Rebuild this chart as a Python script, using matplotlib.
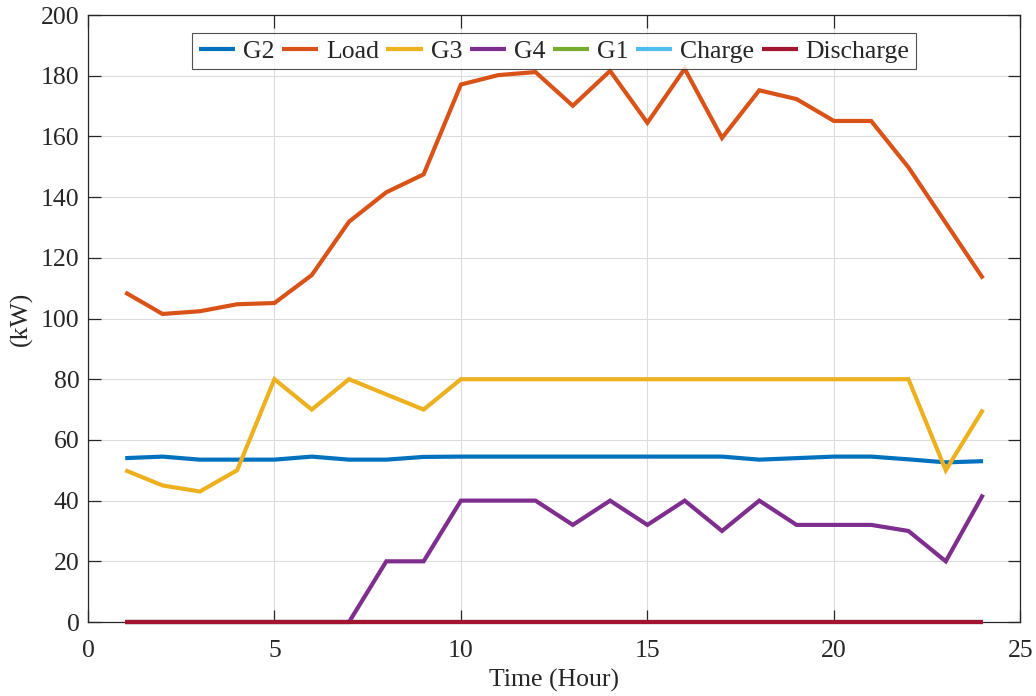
import numpy as np
import matplotlib
matplotlib.use('Agg')
from matplotlib import pyplot as plt

plt.rcParams['font.family'] = ['Liberation Serif', 'DejaVu Serif']
plt.rcParams['mathtext.fontset'] = 'stix'

hours = np.arange(1, 25)

g2 = [54.0, 54.5, 53.5, 53.5, 53.5, 54.5, 53.5, 53.5, 54.4, 54.5, 54.5, 54.5,
      54.5, 54.5, 54.5, 54.5, 54.5, 53.5, 54.0, 54.5, 54.5, 53.6, 52.6, 53.0]
load = [108.6, 101.5, 102.4, 104.7, 105.1, 114.3, 131.9, 141.6, 147.5, 177.1, 180.2, 181.2,
        170.1, 181.6, 164.5, 182.3, 159.5, 175.2, 172.3, 165.1, 165.1, 149.8, 131.5, 113.2]
g3 = [50, 45, 43, 50, 80, 70, 80, 75, 70, 80, 80, 80,
      80, 80, 80, 80, 80, 80, 80, 80, 80, 80, 50, 70]
g4 = [0, 0, 0, 0, 0, 0, 0, 20, 20, 40, 40, 40,
      32, 40, 32, 40, 30, 40, 32, 32, 32, 30, 20, 42]
g1 = [0] * 24
charge = [0] * 24
discharge = [0] * 24

series = [
    ('G2', g2, '#0072BD'),
    ('Load', load, '#D95319'),
    ('G3', g3, '#EDB120'),
    ('G4', g4, '#7E2F8E'),
    ('G1', g1, '#77AC30'),
    ('Charge', charge, '#4DBEEE'),
    ('Discharge', discharge, '#A2142F'),
]

axcol = '#262626'
fs = 18.5

fig = plt.figure(figsize=(10.36, 6.96), dpi=100)
ax = fig.add_axes([0.0849, 0.1063, 0.9, 0.8721])

for name, vals, col in series:
    ax.plot(hours, vals, color=col, linewidth=3.0, label=name, clip_on=False,
            solid_capstyle='butt', solid_joinstyle='miter', zorder=3)

ax.set_xlim(0, 25)
ax.set_ylim(0, 200)
ax.set_xticks([0, 5, 10, 15, 20, 25])
ax.set_yticks(np.arange(0, 201, 20))
ax.grid(True, color='#dcdcdc', linewidth=0.8)
ax.set_axisbelow(True)

for s in ax.spines.values():
    s.set_color(axcol)
    s.set_linewidth(0.9)
ax.tick_params(direction='in', length=9, width=0.9, color=axcol, labelcolor=axcol,
               labelsize=fs, top=True, right=True)
ax.tick_params(axis='x', pad=13)
ax.tick_params(axis='y', pad=6)

ax.set_xlabel('Time (Hour)', fontsize=fs, color=axcol, labelpad=5)
ax.set_ylabel('(kW)', fontsize=fs, color=axcol, labelpad=6)

leg = ax.legend(loc='upper center', ncol=7, fontsize=fs, frameon=True, fancybox=False,
                bbox_to_anchor=(0.5, 0.97), handlelength=1.42, handletextpad=0.3,
                columnspacing=0.29, borderpad=0.25, borderaxespad=0.0)
leg.set_zorder(10)
leg.get_frame().set_edgecolor(axcol)
leg.get_frame().set_linewidth(0.8)
for t in leg.get_texts():
    t.set_color(axcol)

fig.savefig('out.png', dpi=100)
